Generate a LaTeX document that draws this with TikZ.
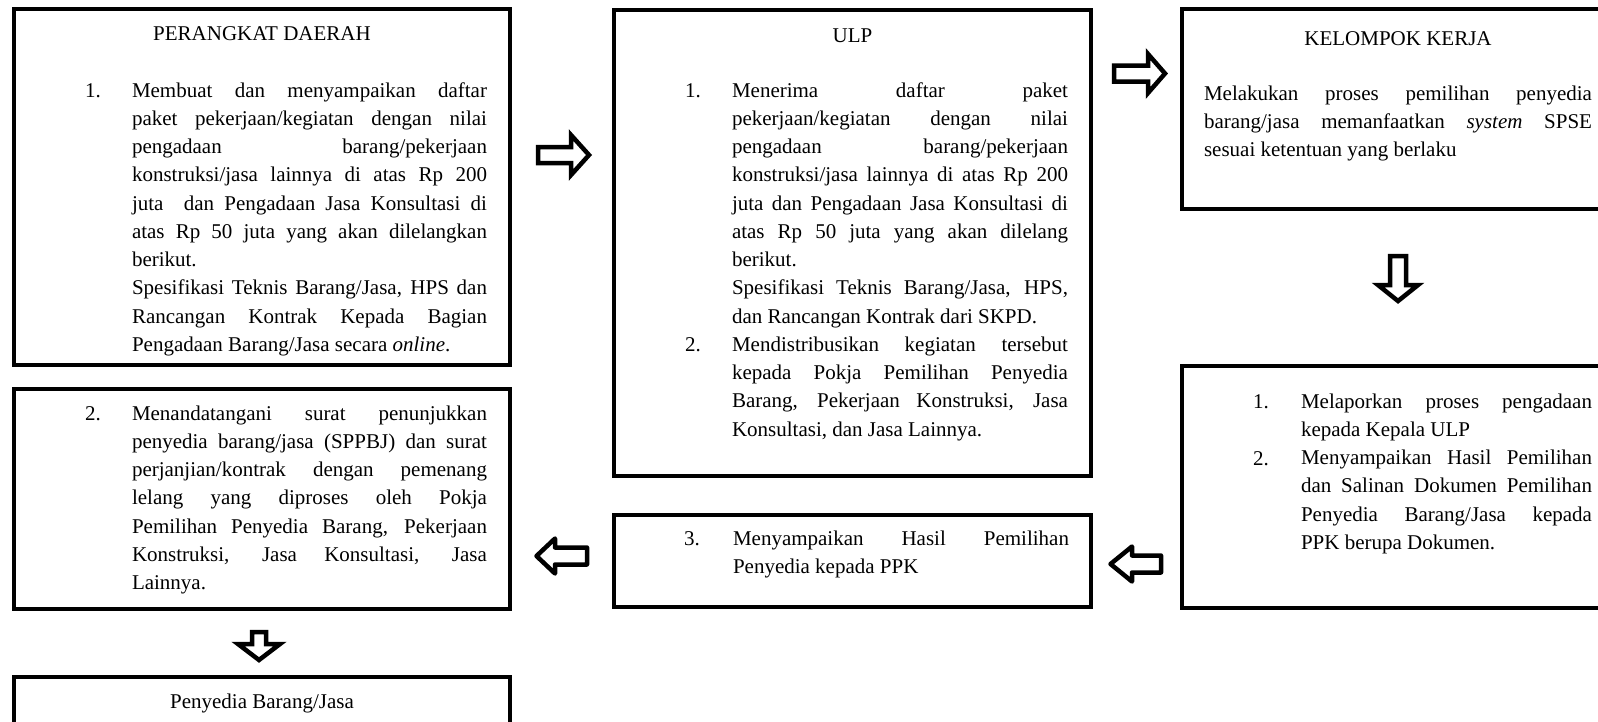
\documentclass[tikz,border=0pt]{standalone}
\usepackage{fontspec}
\setmainfont{Liberation Serif}
\hbadness=10000
\newcommand\jl[1]{\hbox to\hsize{#1}}
\newcommand\nl[1]{\hbox{#1}}
% horizontal block arrow: [opts]{tail x}{centre y}{head base x}{tip x}{shaft half}{head half}
\newcommand\harrow[7][]{\draw[barrow,#1] (#2,#3-#6) -- (#4,#3-#6) -- (#4,#3-#7) -- (#5,#3) -- (#4,#3+#7) -- (#4,#3+#6) -- (#2,#3+#6) -- cycle;}
% vertical block arrow: [opts]{centre x}{tail y}{head base y}{tip y}{shaft half}{head half}
\newcommand\varrow[7][]{\draw[barrow,#1] (#2-#6,#3) -- (#2-#6,#4) -- (#2-#7,#4) -- (#2,#5) -- (#2+#7,#4) -- (#2+#6,#4) -- (#2+#6,#3) -- cycle;}
\begin{document}
\begin{tikzpicture}[x=1pt,y=-1pt,
  box/.style={draw, line width=4.5pt, inner sep=0pt, outer sep=0pt, anchor=north west},
  txt/.style={inner sep=0pt, outer sep=0pt, anchor=base west, font=\fontsize{21}{28.25}\selectfont},
  ttl/.style={inner sep=0pt, outer sep=0pt, anchor=base, font=\fontsize{21}{28.25}\selectfont},
  barrow/.style={draw, line width=4.5pt, fill=white, line join=miter}]
\useasboundingbox (0,0) rectangle (1598,721);
\clip (0,0) rectangle (1598,721);
\fill[white] (0,0) rectangle (1598,721);

% boxes
\node[box, minimum width=496pt, minimum height=356pt] (pd) at (14,9) {};
\node[box, minimum width=496pt, minimum height=220pt] (sign) at (14,389) {};
\node[box, minimum width=496pt, minimum height=80pt] (pbj) at (14,677) {};
\node[box, minimum width=477pt, minimum height=466pt] (ulp) at (614,10) {};
\node[box, minimum width=477pt, minimum height=92pt] (ppk) at (614,515) {};
\node[box, minimum width=432pt, minimum height=200pt] (kk) at (1182,9) {};
\node[box, minimum width=432pt, minimum height=242pt] (lap) at (1182,366) {};

% PERANGKAT DAERAH
\node[ttl] (pdt) at (262,40) {PERANGKAT DAERAH};
\node[txt] (pdn) at (85,97) {1.};
\node[txt] (pdx) at (132,97) {\parbox[t]{355pt}{%
\jl{Membuat dan menyampaikan daftar}
\jl{paket pekerjaan/kegiatan dengan nilai}
\jl{pengadaan barang/pekerjaan}
\jl{konstruksi/jasa lainnya di atas Rp 200}
\jl{juta\ \ dan Pengadaan Jasa Konsultasi di}
\jl{atas Rp 50 juta yang akan dilelangkan}
\nl{berikut.}
\jl{Spesifikasi Teknis Barang/Jasa, HPS dan}
\jl{Rancangan Kontrak Kepada Bagian}
\nl{Pengadaan Barang/Jasa secara \textit{online}.}}};

% sign box
\node[txt] (sgn) at (85,420) {2.};
\node[txt] (sgx) at (132,420) {\parbox[t]{355pt}{%
\jl{Menandatangani surat penunjukkan}
\jl{penyedia barang/jasa (SPPBJ) dan surat}
\jl{perjanjian/kontrak dengan pemenang}
\jl{lelang yang diproses oleh Pokja}
\jl{Pemilihan Penyedia Barang, Pekerjaan}
\jl{Konstruksi, Jasa Konsultasi, Jasa}
\nl{Lainnya.}}};

% Penyedia
\node[ttl] (pbt) at (262,708) {Penyedia Barang/Jasa};

% ULP
\node[ttl] (ulpt) at (852.5,42) {ULP};
\node[txt] (ulpn1) at (685,97) {1.};
\node[txt] (ulpn2) at (685,351) {2.};
\node[txt] (ulpx) at (732,97) {\parbox[t]{336pt}{%
\jl{Menerima daftar paket}
\jl{pekerjaan/kegiatan dengan nilai}
\jl{pengadaan barang/pekerjaan}
\jl{konstruksi/jasa lainnya di atas Rp 200}
\jl{juta dan Pengadaan Jasa Konsultasi di}
\jl{atas Rp 50 juta yang akan dilelang}
\nl{berikut.}
\jl{Spesifikasi Teknis Barang/Jasa, HPS,}
\nl{dan Rancangan Kontrak dari SKPD.}
\jl{Mendistribusikan kegiatan tersebut}
\jl{kepada Pokja Pemilihan Penyedia}
\jl{Barang, Pekerjaan Konstruksi, Jasa}
\nl{Konsultasi, dan Jasa Lainnya.}}};

% PPK box
\node[txt] (ppkn) at (684,545) {3.};
\node[txt] (ppkx) at (733,545) {\parbox[t]{336pt}{%
\jl{Menyampaikan Hasil Pemilihan}
\nl{Penyedia kepada PPK}}};

% KELOMPOK KERJA
\node[ttl] (kkt) at (1398,45) {KELOMPOK KERJA};
\node[txt] (kkx) at (1204,100) {\parbox[t]{388pt}{%
\jl{Melakukan proses pemilihan penyedia}
\jl{barang/jasa memanfaatkan \textit{system} SPSE}
\nl{sesuai ketentuan yang berlaku}}};

% laporan
\node[txt] (lapn1) at (1253,408) {1.};
\node[txt] (lapn2) at (1253,465) {2.};
\node[txt] (lapx) at (1301,408) {\parbox[t]{291pt}{%
\jl{Melaporkan proses pengadaan}
\nl{kepada Kepala ULP}
\jl{Menyampaikan Hasil Pemilihan}
\jl{dan Salinan Dokumen Pemilihan}
\jl{Penyedia Barang/Jasa kepada}
\nl{PPK berupa Dokumen.}}};

% block arrows
\harrow{538}{155}{571}{589}{8}{20}
\harrow{1114}{73.5}{1148}{1165}{8}{19.5}
\varrow{1398}{256}{285}{301}{8}{20}
\harrow[line join=round]{1161}{564}{1132}{1110.5}{8.5}{17.5}
\harrow[line join=round]{587}{556}{555}{536.5}{8.5}{17.5}
\varrow{259}{632}{644}{660}{7}{21}
\end{tikzpicture}
\end{document}
